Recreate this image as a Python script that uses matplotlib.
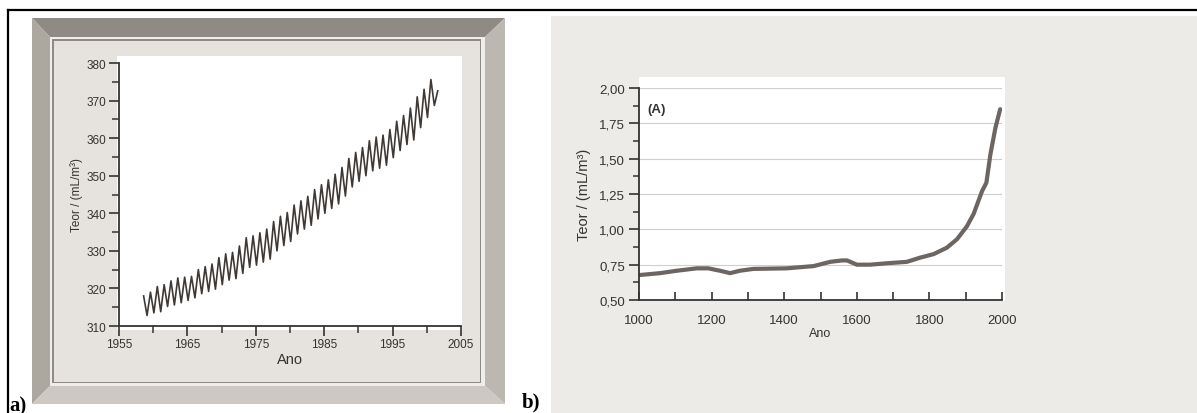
import numpy as np
import matplotlib
matplotlib.use("Agg")
import matplotlib.pyplot as plt
from matplotlib.patches import Rectangle, Polygon
from matplotlib.ticker import MultipleLocator, FixedLocator, FuncFormatter

# --- data, panel a (seasonal cycle, yearly highs and lows) ---
years_a = list(range(1958, 2002))
peaks_a = [318.0, 319.0, 320.5, 321.0, 322.0, 322.8, 323.0, 323.2, 325.0, 325.8,
           326.5, 328.2, 329.2, 329.6, 331.3, 333.5, 334.0, 334.8, 335.8, 337.8,
           339.2, 340.2, 342.2, 343.3, 344.5, 346.3, 347.6, 348.9, 350.4, 352.2,
           354.6, 356.2, 357.5, 359.3, 360.3, 360.8, 362.3, 364.5, 366.0, 368.0,
           371.0, 373.0, 375.6, 372.6]
troughs_a = [312.8, 313.5, 313.8, 315.2, 315.6, 316.2, 316.8, 317.5, 318.6, 319.2,
             319.8, 321.0, 322.2, 322.6, 324.0, 325.6, 326.2, 327.0, 327.8, 330.0,
             331.4, 332.5, 334.5, 335.8, 336.8, 338.5, 340.0, 341.3, 342.5, 344.6,
             347.0, 348.5, 350.0, 351.3, 352.0, 352.8, 354.8, 356.7, 358.3, 359.5,
             362.8, 365.5, 368.7]
xticks_a = [1955, 1965, 1975, 1985, 1995, 2005]
xminor_a = [1960, 1970, 1980, 1990, 2000]

# --- data, panel b ---
years_b = [1003, 1058, 1104, 1159, 1191, 1223, 1251, 1278, 1315, 1407, 1481, 1527,
           1559, 1573, 1600, 1637, 1683, 1738, 1775, 1812, 1848, 1876, 1903, 1922,
           1945, 1957, 1968, 1982, 1995]
teor_b = [0.677, 0.69, 0.707, 0.724, 0.724, 0.707, 0.69, 0.707, 0.72, 0.724, 0.74, 0.77,
          0.78, 0.78, 0.75, 0.75, 0.76, 0.77, 0.80, 0.825, 0.87, 0.93, 1.02, 1.11,
          1.27, 1.33, 1.53, 1.72, 1.85]

W, H = 1197, 414
plt.rcParams['font.family'] = ['Liberation Sans', 'DejaVu Sans']

fig = plt.figure(figsize=(W / 100, H / 100), dpi=100)
fig.patch.set_facecolor('white')


def fx(x):
    return x / W


def fy(y):
    return 1 - y / H


def rect(x0, y0, x1, y1, color, z=-10, **kw):
    fig.add_artist(Rectangle((fx(x0), fy(y1)), fx(x1) - fx(x0), fy(y0) - fy(y1),
                             transform=fig.transFigure, facecolor=color,
                             edgecolor='none', zorder=z, **kw))


def poly(pts, color, z=-9):
    fig.add_artist(Polygon([(fx(x), fy(y)) for x, y in pts], closed=True,
                           transform=fig.transFigure, facecolor=color,
                           edgecolor='none', zorder=z))


def axbox(x0, y0, x1, y1):
    return [fx(x0), fy(y1), fx(x1) - fx(x0), fy(y0) - fy(y1)]


# panel a: photo frame
o = (32, 19, 505, 405)
i = (50, 38, 485, 387)
poly([(o[0], o[1]), (o[2], o[1]), (i[2], i[1]), (i[0], i[1])], '#8f8a84')
poly([(o[0], o[1]), (i[0], i[1]), (i[0], i[3]), (o[0], o[3])], '#aca79f')
poly([(o[2], o[1]), (o[2], o[3]), (i[2], i[3]), (i[2], i[1])], '#bcb7b0')
poly([(o[0], o[3]), (i[0], i[3]), (i[2], i[3]), (o[2], o[3])], '#cdc9c2')
rect(i[0], i[1], i[2], i[3], '#f0eeea', z=-8)
rect(i[0] + 2, i[1] + 2, i[2] - 4, i[3] - 3, '#8f8a84', z=-7)
rect(i[0] + 3.5, i[1] + 3.5, i[2] - 5.5, i[3] - 4.5, '#e6e3de', z=-6)
rect(117, 57, 462, 331, 'white', z=-5)

# panel b: paper and white plot area
rect(551, 17, 1197, 414, '#ecebe7', z=-10)
rect(639, 78, 1005, 302, 'white', z=-5)

# border lines of the whole figure
fig.add_artist(plt.Line2D([fx(8), 1], [fy(11), fy(11)], transform=fig.transFigure,
                          color='black', lw=1.6, zorder=5))
fig.add_artist(plt.Line2D([fx(8), fx(8)], [fy(11), 0], transform=fig.transFigure,
                          color='black', lw=1.6, zorder=5))

ink = '#333333'

# --- panel a ---
ax1 = fig.add_axes(axbox(119, 64, 461, 327))
ax1.set_facecolor('none')
xa, ya = [], []
for k, yr in enumerate(years_a):
    xa.append(yr + 0.6)
    ya.append(peaks_a[k])
    if k < len(troughs_a):
        xa.append(yr + 1.1)
        ya.append(troughs_a[k])
ax1.plot(xa, ya, color='#3f3935', lw=1.2)
ax1.set_xlim(1955, 2005)
ax1.set_ylim(310, 380)
ax1.xaxis.set_major_locator(FixedLocator(xticks_a))
ax1.xaxis.set_minor_locator(FixedLocator(xminor_a))
ax1.yaxis.set_major_locator(MultipleLocator(10))
ax1.yaxis.set_minor_locator(MultipleLocator(5))
for s in ['top', 'right']:
    ax1.spines[s].set_visible(False)
for s in ['left', 'bottom']:
    ax1.spines[s].set_color(ink)
    ax1.spines[s].set_linewidth(1.3)
ax1.tick_params(which='major', direction='out', length=7, width=1.2, color=ink,
                labelsize=8.5, labelcolor=ink, pad=2)
ax1.tick_params(which='minor', direction='out', length=5, width=1.1, color=ink)
ax1.set_xlabel('Ano', fontsize=10.5, color=ink, labelpad=1)
ax1.set_ylabel('Teor / (mL/m³)', fontsize=8.5, color=ink, labelpad=3)

# --- panel b ---
ax2 = fig.add_axes(axbox(639, 89, 1002, 301))
ax2.set_facecolor('none')
ax2.plot(years_b, teor_b, color='#6d6561', lw=3, solid_capstyle='round')
ax2.set_xlim(1000, 2000)
ax2.set_ylim(0.5, 2.0)
ax2.xaxis.set_major_locator(MultipleLocator(200))
ax2.xaxis.set_minor_locator(MultipleLocator(100))
ax2.yaxis.set_major_locator(MultipleLocator(0.25))
ax2.yaxis.set_minor_locator(MultipleLocator(0.125))
ax2.yaxis.set_major_formatter(FuncFormatter(lambda v, p: f'{v:.2f}'.replace('.', ',')))
ax2.yaxis.grid(True, color='#cfcfcf', lw=0.8)
ax2.set_axisbelow(True)
for s in ['top', 'right']:
    ax2.spines[s].set_visible(False)
for s in ['left', 'bottom']:
    ax2.spines[s].set_color(ink)
    ax2.spines[s].set_linewidth(1.3)
ax2.tick_params(axis='y', which='major', direction='out', length=7, width=1.2,
                color=ink, labelsize=9.5, labelcolor=ink, pad=3)
ax2.tick_params(axis='y', which='minor', direction='out', length=4, width=1.1, color=ink)
ax2.tick_params(axis='x', which='both', direction='in', length=6, width=1.2,
                color=ink, labelsize=9.5, labelcolor=ink, pad=10)
ax2.set_xlabel('Ano', fontsize=9, color=ink, labelpad=1)
ax2.set_ylabel('Teor / (mL/m³)', fontsize=10.5, color=ink, labelpad=6)
ax2.text(0.022, 0.90, '(A)', transform=ax2.transAxes, fontsize=9.5,
         fontweight='bold', color=ink, va='center')

# panel letters
fig.text(fx(9), fy(411), 'a)', family='Liberation Serif', fontweight='bold',
         fontsize=15, va='baseline')
fig.text(fx(522), fy(407), 'b)', family='Liberation Serif', fontweight='bold',
         fontsize=15, va='baseline')

fig.savefig('out.png', dpi=100)
